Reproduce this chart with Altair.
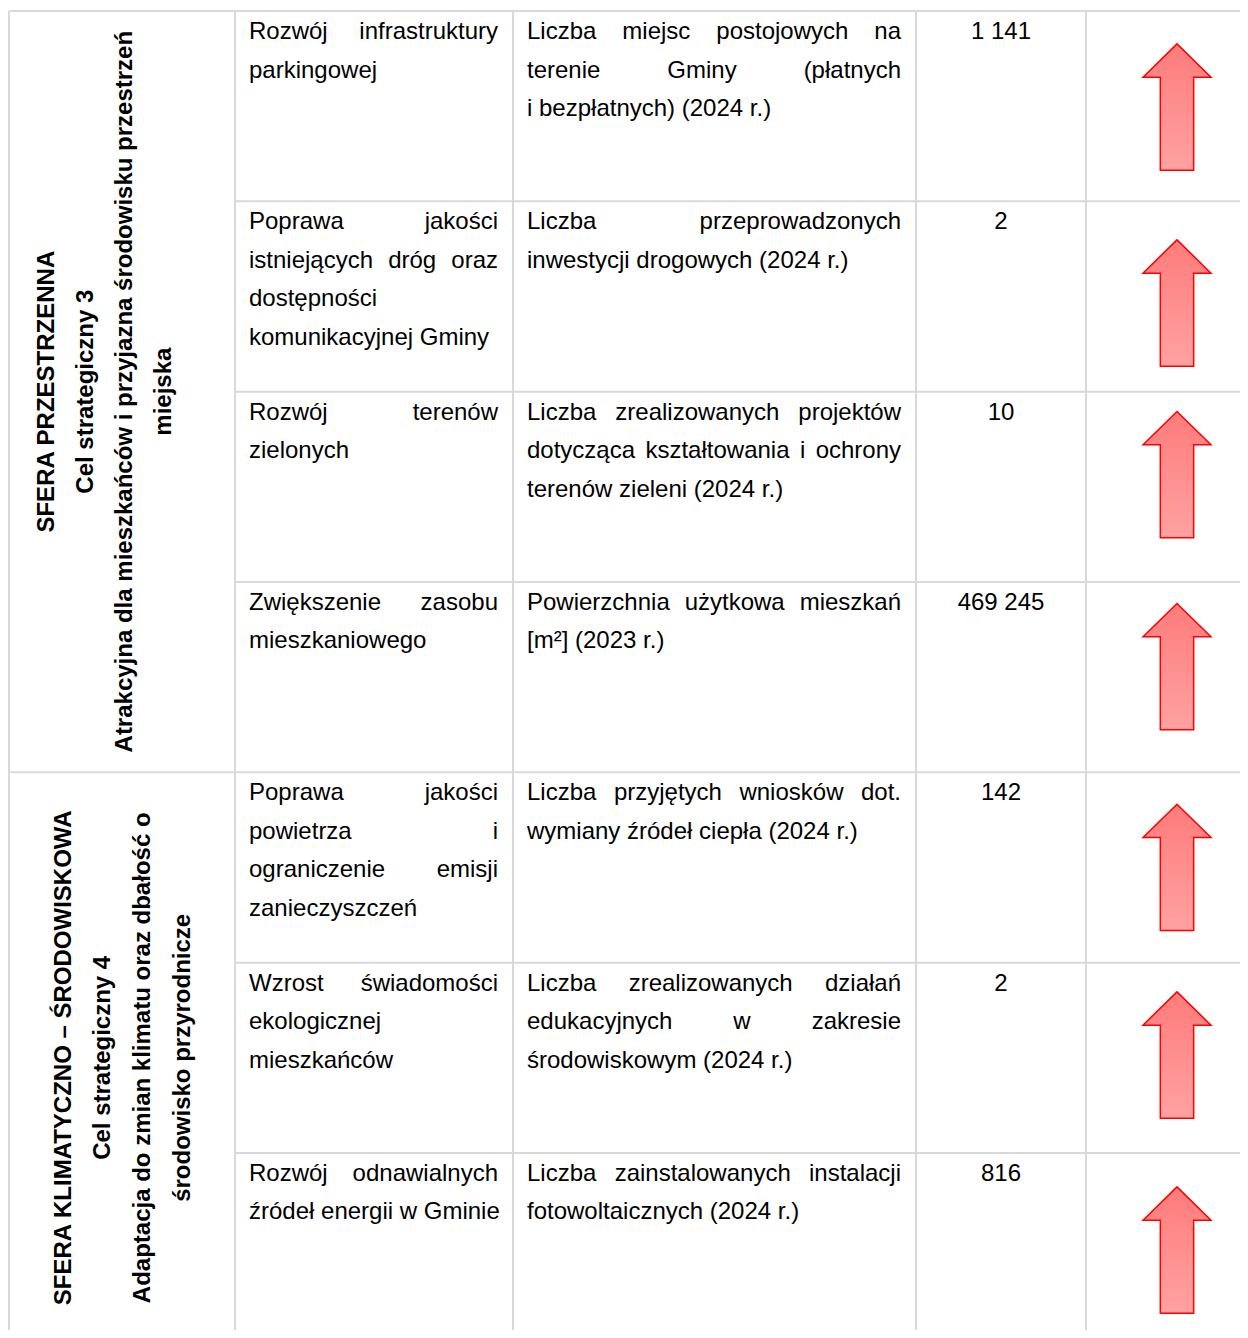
import altair as alt
import pandas as pd

# ---------------- data ----------------
sphere_lines = [
    ["SFERA PRZESTRZENNA", "Cel strategiczny 3",
     "Atrakcyjna dla mieszkańców i przyjazna środowisku przestrzeń", "miejska"],
    ["SFERA KLIMATYCZNO – ŚRODOWISKOWA", "Cel strategiczny 4",
     "Adaptacja do zmian klimatu oraz dbałość o", "środowisko przyrodnicze"],
]
sphere_rows = [4, 3]

directions = [
    ["Rozwój infrastruktury", "parkingowej"],
    ["Poprawa jakości", "istniejących dróg oraz", "dostępności", "komunikacyjnej Gminy"],
    ["Rozwój terenów", "zielonych"],
    ["Zwiększenie zasobu", "mieszkaniowego"],
    ["Poprawa jakości", "powietrza i", "ograniczenie emisji", "zanieczyszczeń"],
    ["Wzrost świadomości", "ekologicznej", "mieszkańców"],
    ["Rozwój odnawialnych", "źródeł energii w Gminie"],
]

indicators = [
    ["Liczba miejsc postojowych na", "terenie Gminy (płatnych", "i bezpłatnych) (2024 r.)"],
    ["Liczba przeprowadzonych", "inwestycji drogowych (2024 r.)"],
    ["Liczba zrealizowanych projektów", "dotycząca kształtowania i ochrony", "terenów zieleni (2024 r.)"],
    ["Powierzchnia użytkowa mieszkań", "[m²] (2023 r.)"],
    ["Liczba przyjętych wniosków dot.", "wymiany źródeł ciepła (2024 r.)"],
    ["Liczba zrealizowanych działań", "edukacyjnych w zakresie", "środowiskowym (2024 r.)"],
    ["Liczba zainstalowanych instalacji", "fotowoltaicznych (2024 r.)"],
]

values = ["1 141", "2", "10", "469 245", "142", "2", "816"]
trends = ["up", "up", "up", "up", "up", "up", "up"]

# ---------------- layout (page pixel coordinates) ----------------
X_MAX, Y_MAX = 1240, 1330          # visible chart area in page coords
COL_X = [9, 235, 513, 916, 1086]
ROW_TOP, ROW_H, N = 11, 190.33, 7
row_y = [ROW_TOP + i * ROW_H for i in range(N + 1)]
BASE_OFF, LINE_H = 28, 38.5
FS = 24
FONT = "'Liberation Sans', Arial, sans-serif"
C2_L, C2_R = 249, 498
C3_L, C3_R = 527, 901
VAL_X = (COL_X[3] + COL_X[4]) / 2
ARROW_X = 1177
ARROW_CY = [107, 303, 474.6, 666.7, 867.4, 1055, 1250]
SPHERE_BASE = [[54, 93, 132, 171], [71, 110, 150, 190]]
GRID = "#d9d9d9"

# Arial / Liberation Sans advance widths, per 1000 em
AW = {' ': 278, 'a': 556, 'b': 556, 'c': 500, 'd': 556, 'e': 556, 'f': 278, 'g': 556,
      'h': 556, 'i': 222, 'j': 222, 'k': 500, 'l': 222, 'm': 833, 'n': 556, 'o': 556,
      'p': 556, 'q': 556, 'r': 333, 's': 500, 't': 278, 'u': 556, 'v': 500, 'w': 722,
      'x': 500, 'y': 500, 'z': 500, 'A': 667, 'B': 667, 'C': 722, 'D': 722, 'E': 667,
      'F': 611, 'G': 778, 'H': 722, 'I': 278, 'J': 500, 'K': 667, 'L': 556, 'M': 833,
      'N': 722, 'O': 778, 'P': 667, 'R': 722, 'S': 667, 'T': 611, 'U': 722, 'W': 944,
      'Z': 611, '.': 278, ',': 278, '(': 333, ')': 333, '[': 278, ']': 278, '²': 333,
      '–': 556, 'ł': 222}
PL = {'ą': 'a', 'ć': 'c', 'ę': 'e', 'ń': 'n', 'ó': 'o', 'ś': 's', 'ź': 'z', 'ż': 'z', 'Ś': 'S'}


def text_w(s):
    tot = 0
    for ch in s:
        ch = PL.get(ch, ch)
        tot += 556 if ch.isdigit() else AW.get(ch, 556)
    return tot / 1000 * FS


def paragraph(lines, left, right, top):
    out = []
    for k, line in enumerate(lines):
        y = top + BASE_OFF + k * LINE_H
        words = line.split(" ")
        last = k == len(lines) - 1
        if last or len(words) == 1:
            out.append({"x": left, "y": y, "t": line})
            continue
        widths = [text_w(w) for w in words]
        gap = (right - left - sum(widths)) / (len(words) - 1)
        x = left
        for w, wd in zip(words, widths):
            out.append({"x": x, "y": y, "t": w})
            x += wd + gap
    return out


words = []
for i in range(N):
    words += paragraph(directions[i], C2_L, C2_R, row_y[i])
    words += paragraph(indicators[i], C3_L, C3_R, row_y[i])
words_df = pd.DataFrame(words)

vals_df = pd.DataFrame({"x": [VAL_X] * N,
                        "y": [row_y[i] + BASE_OFF for i in range(N)],
                        "t": values})

sph = []
start = 0
for g, nrows in enumerate(sphere_rows):
    cy = (row_y[start] + row_y[start + nrows]) / 2
    for k, line in enumerate(sphere_lines[g]):
        sph.append({"x": SPHERE_BASE[g][k], "y": cy, "t": line})
    start += nrows
sph_df = pd.DataFrame(sph)

arrows_df = pd.DataFrame({"x": [ARROW_X] * N, "y": ARROW_CY, "trend": trends})

# grid segments
segs = []
for cx in COL_X:
    segs.append({"x": cx, "x2": cx, "y": row_y[0], "y2": Y_MAX})
segs.append({"x": COL_X[0], "x2": X_MAX, "y": row_y[0], "y2": row_y[0]})
start = 0
for nrows in sphere_rows:
    for r in range(1, nrows):
        yy = row_y[start + r]
        segs.append({"x": COL_X[1], "x2": X_MAX, "y": yy, "y2": yy})
    start += nrows
    if start < N:
        yy = row_y[start]
        segs.append({"x": COL_X[0], "x2": X_MAX, "y": yy, "y2": yy})
segs_df = pd.DataFrame(segs)

# ---------------- chart ----------------
xs = alt.Scale(domain=[8, X_MAX], nice=False, zero=False)
ys = alt.Scale(domain=[8, Y_MAX], nice=False, zero=False, reverse=True)
X = alt.X("x:Q", scale=xs, axis=None)
Y = alt.Y("y:Q", scale=ys, axis=None)

grid = alt.Chart(segs_df).mark_rule(color=GRID, strokeWidth=2).encode(
    x=X, x2="x2:Q", y=Y, y2="y2:Q")

words_layer = alt.Chart(words_df).mark_text(
    align="left", baseline="alphabetic", font=FONT, fontSize=FS, color="#000000"
).encode(x=X, y=Y, text="t:N")

vals_layer = alt.Chart(vals_df).mark_text(
    align="center", baseline="alphabetic", font=FONT, fontSize=FS, color="#000000"
).encode(x=X, y=Y, text="t:N")

sph_layer = alt.Chart(sph_df).mark_text(
    align="center", baseline="alphabetic", font=FONT, fontSize=FS, fontWeight="bold",
    angle=270, color="#000000"
).encode(x=X, y=Y, text="t:N")

ARROW = ("M0,-1 L0.538,-0.473 L0.264,-0.473 L0.264,1 L-0.264,1 "
         "L-0.264,-0.473 L-0.538,-0.473 Z")
arrow_layer = alt.Chart(arrows_df).mark_point(
    shape=ARROW, size=126.3 ** 2, filled=True, opacity=1,
    fill=alt.LinearGradient(gradient="linear",
                            stops=[alt.GradientStop(color="#ff7b7b", offset=0),
                                   alt.GradientStop(color="#ffa2a2", offset=1)],
                            x1=0, x2=0, y1=0, y2=1),
    stroke="#ff0000", strokeWidth=1.5
).encode(x=X, y=Y)

chart = alt.layer(grid, words_layer, vals_layer, sph_layer, arrow_layer).properties(
    width=X_MAX - 8, height=Y_MAX - 8,
    autosize=alt.AutoSizeParams(type="none"), padding=0
).configure_view(stroke=None)

chart.save("out.html", embed_options={"renderer": "svg", "actions": False})
